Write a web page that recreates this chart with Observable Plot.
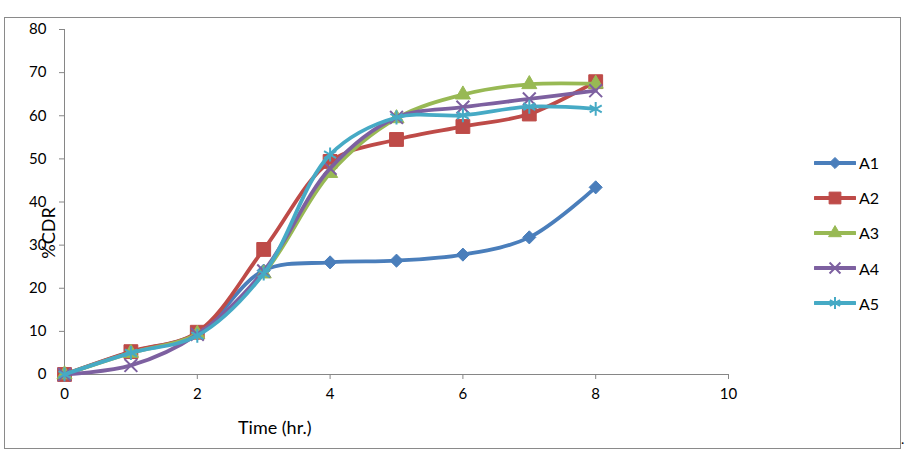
<!DOCTYPE html>
<html>
<head>
<meta charset="utf-8">
<script src="https://cdn.jsdelivr.net/npm/d3@7"></script>
<script src="https://cdn.jsdelivr.net/npm/@observablehq/plot@0.6"></script>
<style>
  body { margin: 0; background: #fff; }
  #wrap { position: relative; width: 906px; height: 454px; font-family: Lato, "Open Sans", sans-serif; color: #000; overflow: hidden; }
  #frame { position: absolute; left: 4px; top: 17px; width: 895px; height: 430px; border: 1px solid #8a8a8a; }
  #chart { position: absolute; left: 0; top: 0; }
  .lbl { position: absolute; font-size: 18px; white-space: nowrap; }
  #legend { position: absolute; left: 814px; top: 145px; }
  .item { display: flex; align-items: center; height: 35.2px; font-size: 16px; }
  .item svg { margin-right: 3px; }
</style>
</head>
<body>
<div id="wrap">
  <div id="frame"></div>
  <div id="chart"></div>
  <div class="lbl" id="xlab" style="left:238px; top:416px;">Time (hr.)</div>
  <div class="lbl" id="ylab" style="left:48px; top:233px; transform: translate(-50%,-50%) rotate(-90deg);">%CDR</div>
  <div id="legend"></div>
  <div class="lbl" style="left:901px; top:430px; font-size:14px;">.</div>
</div>
<script>
const time = [0, 1, 2, 3, 4, 5, 6, 7, 8];
const seriesNames = ["A1", "A2", "A3", "A4", "A5"];
const A1 = [0, 5.2, 9.5, 24.1, 26.0, 26.4, 27.8, 31.8, 43.4];
const A2 = [0, 5.3, 9.8, 29.0, 49.4, 54.5, 57.5, 60.4, 67.9];
const A3 = [0, 5.0, 9.4, 23.4, 46.7, 59.4, 64.9, 67.3, 67.4];
const A4 = [0, 2.1, 9.3, 24.0, 47.8, 59.6, 62.0, 63.9, 65.8];
const A5 = [0, 5.0, 9.0, 23.4, 51.0, 59.6, 60.1, 62.1, 61.6];
const xTicks = [0, 2, 4, 6, 8, 10];
const yTicks = [0, 10, 20, 30, 40, 50, 60, 70, 80];

const values = [A1, A2, A3, A4, A5];
const colors = ["#4A7EBB", "#BE4B48", "#98B954", "#7D60A0", "#46AAC5"];
const symbols = ["diamond2", "square", "triangle", "times", "asterisk"];
const radii = [5.9, 7.8, 5.6, 5.9, 6.6];
const filled = [true, true, true, false, false];

const marks = [
  Plot.ruleY([0], {stroke: "#868686", strokeWidth: 1}),
  Plot.ruleX([0], {stroke: "#868686", strokeWidth: 1}),
  Plot.axisX({ticks: xTicks, tickSize: 5, tickPadding: 9, stroke: "#868686", fill: "#000", fontSize: 15, label: null}),
  Plot.axisY({ticks: yTicks, tickSize: 5, tickPadding: 13, stroke: "#868686", fill: "#000", fontSize: 15, label: null})
];
values.forEach((vals, i) => {
  const data = time.map((t, j) => ({t, v: vals[j]}));
  marks.push(Plot.line(data, {x: "t", y: "v", stroke: colors[i], strokeWidth: 3.8, curve: "catmull-rom"}));
  marks.push(Plot.dot(data, {
    x: "t", y: "v", symbol: () => symbols[i], r: radii[i],
    fill: filled[i] ? colors[i] : "none",
    stroke: colors[i], strokeWidth: filled[i] ? 1 : 2
  }));
});

const plot = Plot.plot({
  width: 906, height: 454,
  marginLeft: 64, marginRight: 178, marginTop: 29, marginBottom: 80,
  x: {domain: [0, 10]},
  y: {domain: [0, 80]},
  style: {fontFamily: "Lato, 'Open Sans', sans-serif", background: "transparent", overflow: "visible"},
  marks
});
document.getElementById("chart").appendChild(plot);

// Legend
const legend = d3.select("#legend");
const symMap = {diamond2: d3.symbolDiamond2, square: d3.symbolSquare, triangle: d3.symbolTriangle, times: d3.symbolTimes, asterisk: d3.symbolAsterisk};
seriesNames.forEach((name, i) => {
  const item = legend.append("div").attr("class", "item");
  const svg = item.append("svg").attr("width", 42).attr("height", 18);
  svg.append("line").attr("x1", 1).attr("x2", 41).attr("y1", 9).attr("y2", 9)
    .attr("stroke", colors[i]).attr("stroke-width", 3.8).attr("stroke-linecap", "round");
  const size = Math.PI * Math.pow(radii[i] * 0.85, 2);
  svg.append("path").attr("d", d3.symbol(symMap[symbols[i]], size)())
    .attr("transform", "translate(21,9)")
    .attr("fill", filled[i] ? colors[i] : "none")
    .attr("stroke", colors[i]).attr("stroke-width", filled[i] ? 1 : 2);
  item.append("span").text(name);
});
</script>
</body>
</html>
